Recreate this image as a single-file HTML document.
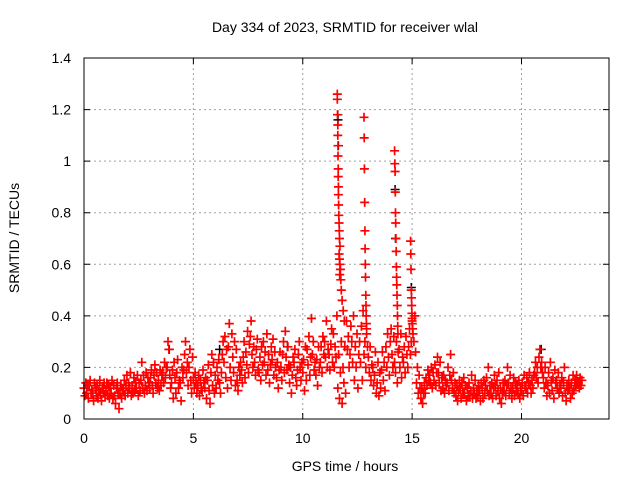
<!DOCTYPE html>
<html><head><meta charset="utf-8"><style>
html,body{margin:0;padding:0;background:#fff}
svg{display:block;font-family:"Liberation Sans",sans-serif}
</style></head><body>
<svg id="chart" width="640" height="480" viewBox="0 0 640 480" xmlns="http://www.w3.org/2000/svg">
<rect width="640" height="480" fill="#fff"/>
<text x="345" y="32" font-size="14" text-anchor="middle">Day 334 of 2023, SRMTID for receiver wlal</text>
<text x="345" y="471" font-size="14" text-anchor="middle">GPS time / hours</text>
<text transform="translate(19,238) rotate(-90)" font-size="14" text-anchor="middle">SRMTID / TECUs</text>
<g id="grid"></g>
<g id="ticks"></g>
<g id="black-series"></g>
<g id="red-series"></g>
<rect x="84" y="58" width="525" height="361" fill="none" stroke="#000" stroke-width="1"/>
</svg>
<script>
const xTicks=[0,5,10,15,20];
const yTicks=[0,0.2,0.4,0.6,0.8,1,1.2,1.4];
const yTickLabels=["0","0.2","0.4","0.6","0.8","1","1.2","1.4"];
const slotStep=0.2;
const baseline=[
[.12,.09,.14,.10,.13],[.08,.13,.15,.10,.11],[.10,.07,.14,.12,.09],[.13,.08,.11,.15,.10],[.07,.12,.10,.14,.09],
[.11,.14,.09,.13,.08],[.12,.10,.15,.08,.13],[.09,.06,.12,.14,.10],[.04,.10,.13,.08,.12],[.11,.15,.09,.13,.17],
[.10,.14,.12,.18,.09],[.13,.10,.16,.11,.14],[.12,.17,.09,.14,.11],[.15,.22,.12,.17,.10],[.13,.18,.11,.16,.14],
[.12,.16,.19,.13,.10],[.17,.21,.14,.18,.12],[.15,.11,.19,.13,.17],[.18,.14,.22,.16,.20],[.20,.30,.27,.17,.12],
[.14,.19,.08,.22,.16],[.10,.18,.23,.12,.15],[.14,.07,.20,.16,.19],[.25,.30,.18,.22,.13],[.20,.27,.15,.10,.24],
[.16,.12,.18,.14,.10],[.13,.17,.09,.15,.12],[.11,.19,.14,.12,.16],[.08,.15,.21,.11,.06],[.18,.25,.13,.22,.10],
[.17,.12,.20,.15,.23],[.14,.10,.18,.25,.30],[.22,.32,.16,.27,.12],[.28,.37,.20,.15,.33],[.24,.18,.30,.13,.27],
[.15,.11,.20,.17,.22],[.19,.14,.24,.30,.16],[.26,.21,.34,.18,.29],[.32,.38,.25,.20,.28],[.22,.17,.27,.31,.19],
[.18,.24,.15,.28,.21],[.30,.22,.26,.17,.33],[.19,.25,.14,.21,.28],[.23,.31,.17,.26,.20],[.16,.22,.12,.19,.26],
[.20,.15,.25,.30,.18],[.34,.24,.19,.28,.21],[.14,.20,.10,.17,.24],[.22,.27,.16,.13,.19],[.25,.30,.20,.15,.22],
[.18,.23,.11,.28,.15],[.27,.21,.32,.17,.24],[.39,.25,.30,.19,.22],[.17,.23,.13,.28,.20],[.22,.28,.18,.32,.25],
[.30,.24,.38,.20,.27],[.25,.19,.29,.35,.22],[.33,.20,.28,.24,.40],[.12,.25,.08,.18,.30],[.06,.20,.14,.28,.10],
[.38,.27,.32,.20,.25],[.36,.30,.22,.40,.15],[.28,.20,.33,.12,.25],[.30,.22,.36,.15,.42],[.25,.30,.20,.35,.28],
[.24,.18,.28,.15,.21],[.20,.13,.17,.26,.10],[.14,.22,.09,.18,.12],[.19,.26,.15,.22,.11],[.28,.20,.33,.24,.17],
[.30,.35,.25,.20,.32],[.22,.18,.30,.14,.26],[.27,.20,.33,.16,.24],[.22,.28,.18,.32,.25],[.20,.28,.35,.25,.30],
[.38,.33,.30,.40,.26],[.14,.20,.10,.17,.12],[.08,.12,.06,.10,.14],[.10,.16,.13,.19,.15],[.17,.14,.20,.12,.18],
[.15,.21,.13,.18,.24],[.18,.14,.22,.11,.16],[.12,.17,.10,.15,.13],[.14,.20,.11,.17,.25],[.15,.12,.18,.10,.14],
[.09,.13,.07,.11,.15],[.12,.08,.14,.10,.16],[.10,.13,.07,.12,.09],[.14,.09,.11,.17,.08],[.12,.10,.15,.08,.11],
[.09,.13,.11,.07,.14],[.12,.08,.15,.10,.13],[.16,.11,.20,.09,.13],[.10,.14,.08,.12,.17],[.13,.09,.15,.11,.18],
[.08,.12,.06,.10,.14],[.11,.15,.09,.13,.20],[.14,.10,.17,.12,.08],[.12,.16,.09,.14,.11],[.13,.10,.15,.08,.12],
[.11,.14,.09,.17,.13],[.12,.16,.10,.14,.18],[.13,.10,.15,.12,.17],[.18,.22,.16,.20,.14],[.24,.27,.20,.22,.18],
[.16,.12,.20,.14,.09],[.13,.18,.10,.22,.15],[.11,.16,.08,.19,.14],[.15,.12,.18,.10,.13],[.12,.16,.09,.14,.20],
[.10,.07,.13,.11,.15],[.12,.08,.14,.10,.17],[.11,.15,.13,.17,.14],[.14,.12,.16,.13,.15]
];
const spikeTimes=[11.58,11.58,11.59,11.6,11.6,11.61,11.61,11.62,11.62,11.63,11.63,11.64,11.65,11.66,11.67,11.68,11.7,11.66,11.68,11.7,11.72,11.69,11.74,11.76,11.8,11.85,11.9,
12.8,12.81,12.82,12.83,12.84,12.85,12.86,12.87,12.88,12.89,12.9,12.91,12.92,
14.2,14.21,14.22,14.23,14.24,14.25,14.26,14.27,14.28,14.29,14.3,14.31,14.32,14.33,14.34,14.35,
14.93,14.94,14.95,14.96,14.97,14.98,14.99,15.0,15.01,15.02];
const spikeValues=[1.26,1.24,1.18,1.14,1.10,1.06,1.02,0.97,0.94,0.90,0.87,0.83,0.79,0.76,0.73,0.70,0.67,0.64,0.62,0.60,0.58,0.56,0.54,0.50,0.46,0.42,0.38,
1.17,1.09,0.97,0.84,0.73,0.66,0.60,0.55,0.48,0.44,0.40,0.37,0.33,
1.04,0.99,0.96,0.88,0.80,0.76,0.70,0.65,0.59,0.55,0.52,0.48,0.44,0.40,0.36,0.33,
0.69,0.64,0.58,0.50,0.47,0.44,0.41,0.39,0.37,0.35];
const blackTimes=[11.6,11.61,11.63,14.22,14.24,14.96,12.86,3.9,20.9,9.3,6.2];
const blackValues=[1.18,1.16,1.06,0.89,0.70,0.51,0.60,0.27,0.27,0.28,0.27];

const NS="http://www.w3.org/2000/svg";
const X0=84,X1=609,Y0=419,Y1=58,XMAX=24,YMAX=1.4,H=4.5;
function xs(t){return X0+(X1-X0)*t/XMAX;}
function ys(v){return Y0-(Y0-Y1)*v/YMAX;}
function mk(tag,attrs,parent){const e=document.createElementNS(NS,tag);for(const k in attrs)e.setAttribute(k,attrs[k]);parent.appendChild(e);return e;}

const grid=document.getElementById('grid'),ticks=document.getElementById('ticks');
xTicks.forEach((t,i)=>{
  const x=xs(t);
  if(t>0){const g=mk('line',{x1:x,y1:Y1,x2:x,y2:Y0,stroke:'#a0a0a0','stroke-dasharray':'2,3'},grid);
  
  }
  const tk=mk('path',{d:`M${x},${Y0}v-6M${x},${Y1}v6`,stroke:'#000'},ticks);
  
  
  const lb=mk('text',{x:x,y:443,'font-size':14,'text-anchor':'middle'},ticks);
  lb.textContent=String(t);
  
  
});
yTicks.forEach((v,i)=>{
  const y=ys(v);
  if(v>0&&v<YMAX){const g=mk('line',{x1:X0,y1:y,x2:X1,y2:y,stroke:'#a0a0a0','stroke-dasharray':'2,3'},grid);
  
  }
  const tk=mk('path',{d:`M${X0},${y}h6M${X1},${y}h-6`,stroke:'#000'},ticks);
  
  
  const lb=mk('text',{x:71,y:y+5,'font-size':14,'text-anchor':'end'},ticks);
  lb.textContent=yTickLabels[i];
  
  
});
function plus(x,y){return `M${(x-H).toFixed(1)},${y.toFixed(1)}h${2*H}M${x.toFixed(1)},${(y-H).toFixed(1)}v${2*H}`;}
let bd='';
blackTimes.forEach((t,i)=>{bd+=plus(xs(t),ys(blackValues[i]));});
const bp=mk('path',{d:bd,stroke:'#000','stroke-width':1.5,fill:'none'},document.getElementById('black-series'));


let rd='';
baseline.forEach((row,i)=>{row.forEach((v,k)=>{const t=i*slotStep+k*slotStep/row.length;rd+=plus(xs(t),ys(v));});});
spikeTimes.forEach((t,i)=>{rd+=plus(xs(t),ys(spikeValues[i]));});
const rp=mk('path',{d:rd,stroke:'#ff0000','stroke-width':1.7,fill:'none'},document.getElementById('red-series'));


</script>
</body></html>
